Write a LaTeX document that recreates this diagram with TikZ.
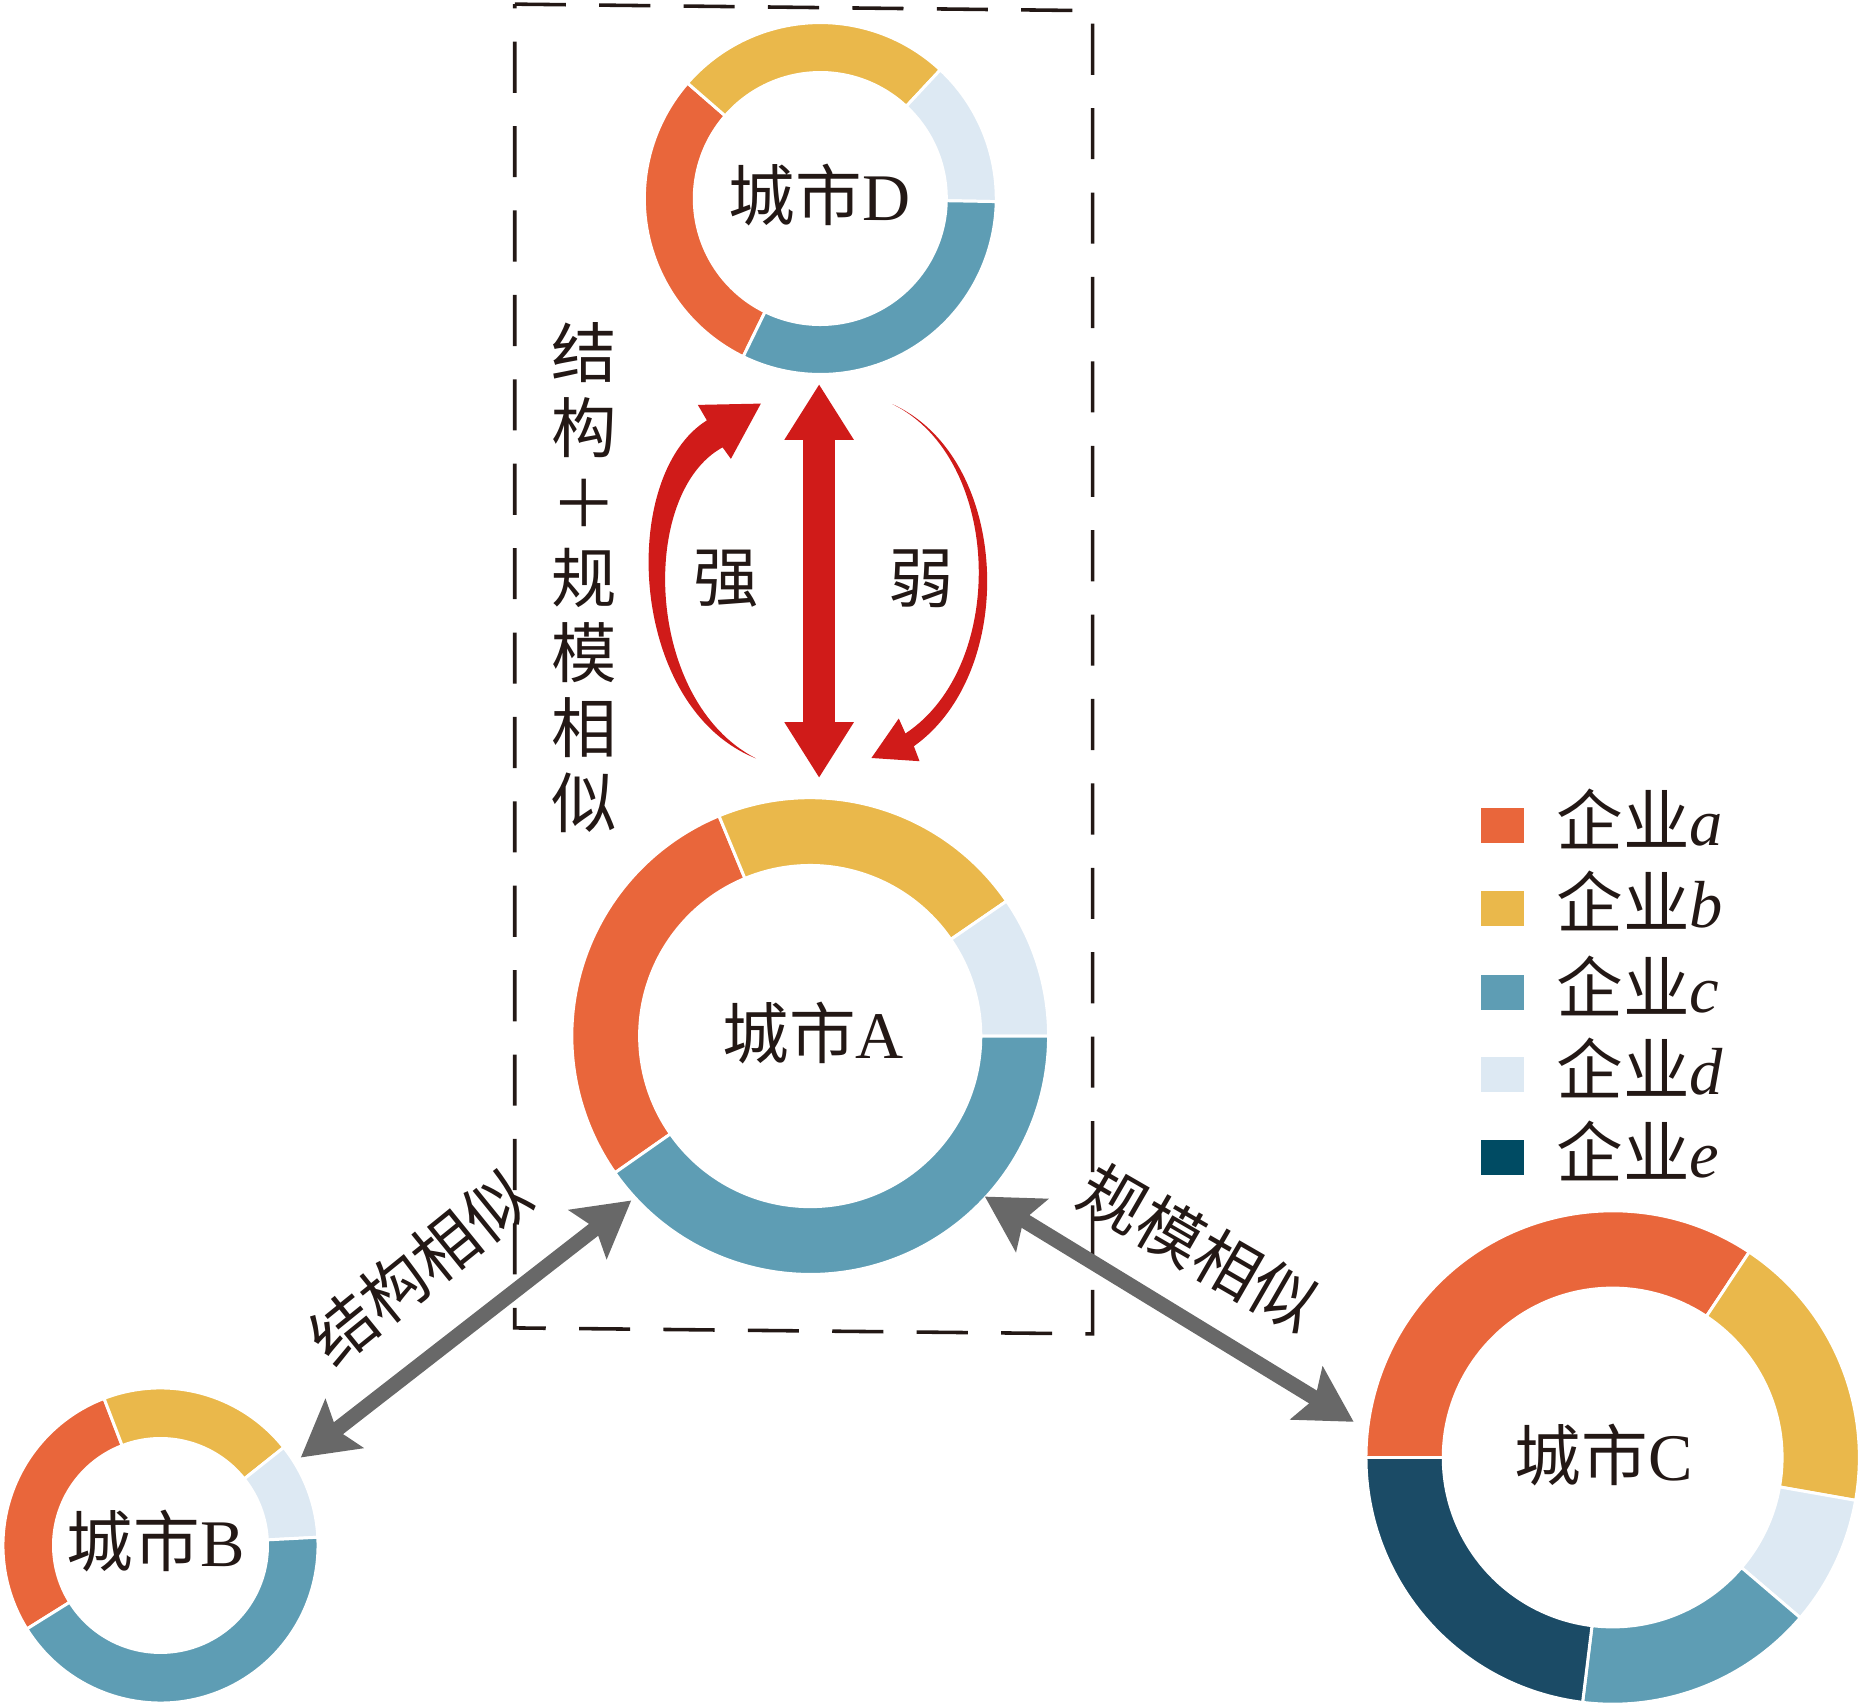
\documentclass[tikz,border=0pt]{standalone}
\usepackage{fontspec}
\setmainfont{Liberation Serif}
\newfontfamily\cjk{Noto Sans CJK SC}
\usetikzlibrary{arrows.meta}
\definecolor{ca}{HTML}{E9663B}
\definecolor{cb}{HTML}{EAB84B}
\definecolor{cc}{HTML}{5E9DB4}
\definecolor{cd}{HTML}{DDE9F3}
\definecolor{ce}{HTML}{004B63}
\definecolor{cee}{HTML}{1B4B66}
\definecolor{redA}{HTML}{D01B19}
\definecolor{grayA}{HTML}{686868}
\definecolor{ink}{HTML}{231815}
\newcommand{\ringseg}[5]{\filldraw[draw=white,line width=2.5pt,fill=#5] (#1:#3) arc[start angle=#1,end angle=#2,radius=#3] -- (#2:#4) arc[start angle=#2,end angle=#1,radius=#4] -- cycle;}
\tikzset{
  citylbl/.style={anchor=base,inner sep=0pt,text=ink,font=\fontsize{56}{60}\selectfont},
  cjklbl/.style={inner sep=0pt,text=ink,font=\cjk\fontsize{55}{60}\selectfont},
  legbox/.style={minimum width=36pt,minimum height=29.5pt,inner sep=0pt,draw=none},
  legtxt/.style={anchor=base west,inner sep=0pt,text=ink,font=\fontsize{56}{60}\selectfont},
  grayarrow/.style={draw=grayA,line width=12.6pt,{Stealth[length=46pt,width=51pt,inset=8pt]}-{Stealth[length=46pt,width=51pt,inset=8pt]}},
  redarrow/.style={draw=redA,line width=27.5pt,{Triangle[length=47pt,width=55pt]}-{Triangle[length=47pt,width=55pt]}},
  dashbox/.style={draw=ink,line width=3pt,dash pattern=on 43pt off 28pt}
}
\begin{document}
\begin{tikzpicture}[x=1pt,y=1pt]
\useasboundingbox (0,0) rectangle (1565.4,1435);
% circle centres
\coordinate (cD) at (690,1268);
\coordinate (cA) at (681.5,563.5);
\coordinate (cB) at (135,135);
\coordinate (cC) at (1356.5,209);
% dashed frame
\coordinate (f1) at (433,1431.5);
\coordinate (f2) at (919,1426);
\coordinate (f3) at (919,313);
\coordinate (f4) at (433,318);
\draw[dashbox] (f1) -- (f2) -- (f3) -- (f4) -- cycle;
% ring D
\begin{scope}[shift={(cD)}]
\ringseg{139}{244}{148}{106}{ca}
\ringseg{47}{139}{148}{106}{cb}
\ringseg{-1}{47}{148}{106}{cd}
\ringseg{-116}{-1}{148}{106}{cc}
\end{scope}
% ring A
\begin{scope}[shift={(cA)}]
\ringseg{112.5}{215}{200.5}{143.5}{ca}
\ringseg{34.5}{112.5}{200.5}{143.5}{cb}
\ringseg{0}{34.5}{200.5}{143.5}{cd}
\ringseg{-145}{0}{200.5}{143.5}{cc}
\end{scope}
% ring B
\begin{scope}[shift={(cB)}]
\ringseg{111}{212}{132.5}{90}{ca}
\ringseg{38.5}{111}{132.5}{90}{cb}
\ringseg{3}{38.5}{132.5}{90}{cd}
\ringseg{-148}{3}{132.5}{90}{cc}
\end{scope}
% ring C
\begin{scope}[shift={(cC)}]
\ringseg{56.4}{180}{207.5}{142.5}{ca}
\ringseg{-10}{56.4}{207.5}{142.5}{cb}
\ringseg{-40.5}{-10}{207.5}{142.5}{cd}
\ringseg{-97}{-40.5}{207.5}{142.5}{cc}
\ringseg{180}{263}{207.5}{142.5}{cee}
\end{scope}
% city labels
\node[citylbl] (lD) at (689.3,1249.4) {{\cjk 城市}D};
\node[citylbl] (lA) at (684,545) {{\cjk 城市}A};
\node[citylbl] (lB) at (131,117.4) {{\cjk 城市}B};
\node[citylbl] (lC) at (1349,190) {{\cjk 城市}C};
% red straight double arrow D <-> A
\coordinate (rTop) at (689,1112);
\coordinate (rBot) at (689,780.5);
\draw[redarrow] (rBot) -- (rTop);
% left curved arrow (strong)
\coordinate (Lt) at (636,797);
\coordinate (Lno) at (594.6,1081.4);
\coordinate (Lbo) at (587,1094.4);
\coordinate (Ltip) at (640,1095.5);
\coordinate (Lbi) at (614.8,1049);
\coordinate (Lni) at (607.8,1058.7);
\fill[redA] (Lt) .. controls (528,840) and (520,1035) .. (Lno) -- (Lbo) -- (Ltip) -- (Lbi) -- (Lni) .. controls (537,1020) and (542,845) .. (Lt) -- cycle;
% right curved arrow (weak)
\coordinate (Rt) at (750.7,1095);
\coordinate (Rno) at (768.7,807.3);
\coordinate (Rbo) at (773.5,794.7);
\coordinate (Rtip) at (733,797.4);
\coordinate (Rbi) at (756,830.6);
\coordinate (Rni) at (761.6,818);
\fill[redA] (Rt) .. controls (850,1050) and (857,870) .. (Rno) -- (Rbo) -- (Rtip) -- (Rbi) -- (Rni) .. controls (848,875) and (843,1050) .. (Rt) -- cycle;
\node[cjklbl] (qiang) at (611,948) {强};
\node[cjklbl] (ruo) at (775,948) {弱};
% vertical label
\node[inner sep=0pt,text=ink,align=center,font=\cjk\fontsize{55}{63}\selectfont] (vlab) at (491,949) {结\\构\\＋\\规\\模\\相\\似};
% gray arrows
\coordinate (gAB1) at (531,425.2);
\coordinate (gAB2) at (253,209);
\coordinate (gAC1) at (828.4,428.5);
\coordinate (gAC2) at (1138.7,239);
\draw[grayarrow] (gAB2) -- (gAB1);
\draw[grayarrow] (gAC1) -- (gAC2);
\node[cjklbl,rotate=39] (jg) at (353,369) {结构相似};
\node[cjklbl,rotate=-30] (gm) at (1009,385.5) {规模相似};
% legend
\node[legbox,fill=ca] (ka) at (1264,740.5) {};
\node[legbox,fill=cb] (kb) at (1264,671) {};
\node[legbox,fill=cc] (kc) at (1264,600) {};
\node[legbox,fill=cd] (kd) at (1264,531) {};
\node[legbox,fill=ce] (ke) at (1264,461) {};
\node[legtxt] (ta) at (1309,724) {{\cjk 企业}\textit{a}};
\node[legtxt] (tb) at (1309,654.5) {{\cjk 企业}\textit{b}};
\node[legtxt] (tc) at (1309,583.5) {{\cjk 企业}\textit{c}};
\node[legtxt] (td) at (1309,514.5) {{\cjk 企业}\textit{d}};
\node[legtxt] (te) at (1309,444.5) {{\cjk 企业}\textit{e}};
\end{tikzpicture}
\end{document}
